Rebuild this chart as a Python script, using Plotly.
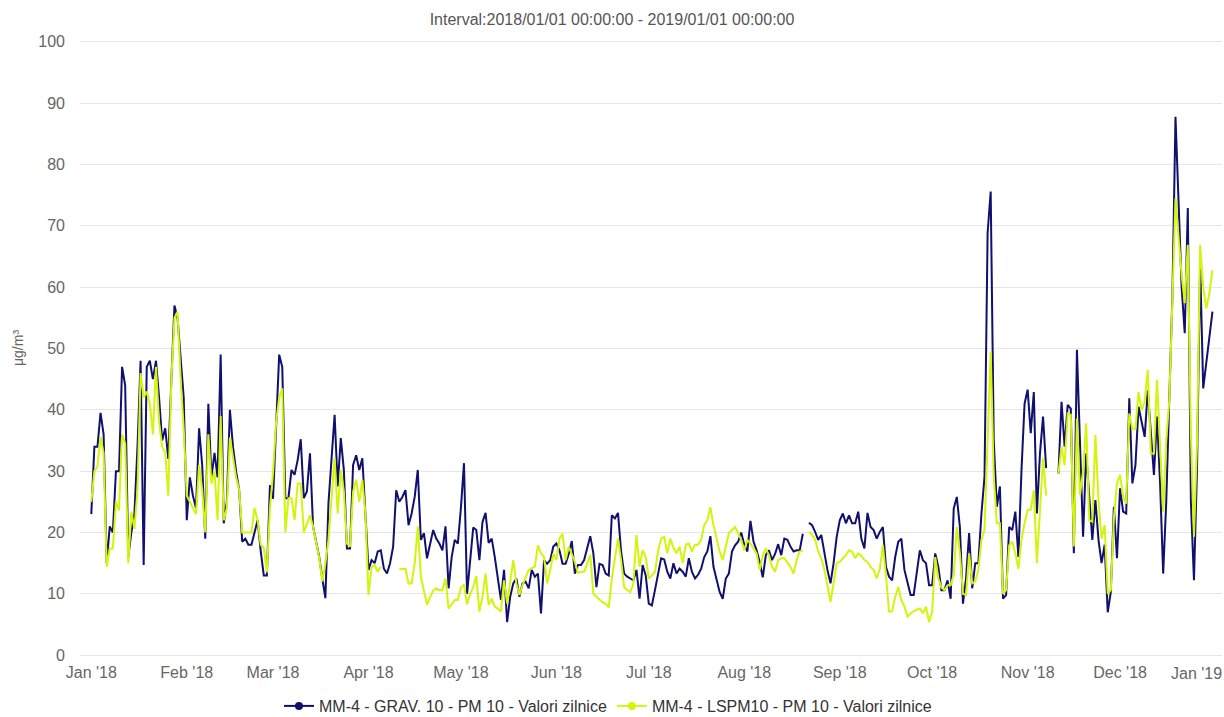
import pandas as pd
import plotly.graph_objects as go

# ---------------- data (daily values, 2018-01-01 .. 2018-12-31) ----------------
start_date = "2018-01-01"
n_days = 365

grav_pm10 = [
    # Jan 1 - Mar 4
    23, 34, 34, 39.5, 36, 15, 21, 20, 30, 30, 47, 44, 16, 20, 23, 34, 48, 14.7, 47, 48,
    45, 48, 42, 35, 37, 32, 45, 57, 55, 48, 42, 22, 29, 26, 24, 37, 31, 19, 41, 29,
    33, 29, 49, 21.5, 25, 40, 34, 30, 27, 18.5, 19, 18, 18, 20, 22, 17, 13, 13, 27.7, 25.5,
    38, 49, 47,
    # Mar 5 - May 1
    25.6, 25.6, 30.2, 29.4, 31.8, 35.2, 25.6, 26.7, 32.9, 21, 18.2, 16, 12.5, 9.3, 24.8, 32.4,
    39.2, 27.5, 35.4, 30.2, 17.4, 17.4, 31, 32.6, 30.2, 32.1, 23.7, 13.9, 15.5, 15, 16.9, 17.1,
    14.1, 13.3, 15, 17.7, 26.9, 25, 25.8, 26.9, 21.2, 23.1, 25.8, 30.2, 18.8, 19.9, 15.8, 18.2,
    20.4, 19, 18.2, 17.1, 21, 10.9, 16, 18.8, 18.2, 24,
    # May 2 - Jul 6
    31.3, 10, 16, 20.8, 20.4, 15.5, 21.7, 23.2, 18.3, 19, 16, 12.8, 9, 13.9, 5.4, 9.5,
    11.7, 12.5, 9.5, 11.7, 12, 10.9, 13.9, 12.8, 13.3, 6.8, 15.5, 14.9, 15.5, 17.7, 18.2, 17.1,
    14.9, 14.9, 16.5, 18.6, 13.3, 14.7, 14.7, 15.5, 17.7, 19.4, 16.6, 11.1, 14.9, 14.7, 13.3, 13,
    22.8, 22.3, 23.2, 16.9, 13.3, 12.8, 12.5, 12.2, 13.9, 9.2, 14.7, 13, 8.4, 8.1, 10.6, 13.3,
    15.8, 15.6,
    # Jul 7 - Sep 7
    13.6, 12.5, 15, 13.3, 14.1, 13.6, 12.8, 15.8, 13.6, 12.5, 13.1, 14.1, 16, 16.9, 19.4, 14.4,
    12.2, 10.3, 9.2, 12.5, 13.3, 16.9, 17.9, 18.5, 20, 18, 16.9, 21.9, 18.5, 17.1, 15.2, 12.7,
    16.3, 17.1, 15.5, 16.5, 18.1, 16.3, 19, 18.8, 17.7, 16.9, 17.1, 17.1, 19.8, None, 21.6, 21.2,
    20.1, 18.8, 19.6, 16.6, 13.9, 11.7, 15, 19.3, 22, 23.1, 21.5, 22.8, 21.5, 21.5, 23.4,
    # Sep 8 - Nov 7
    19, 17.4, 23.2, 20.9, 20.4, 19, 20.1, 20.9, 14.4, 12.8, 12.2, 16, 18.5, 19, 13.9, 11.7,
    9.8, 9.8, 13.6, 17.1, 15.5, 15, 11.4, 11.4, 16.6, 14.4, 10.6, 10.6, 12.2, 9.2, 23.9, 25.8,
    20.9, 8.4, 12.5, 19.9, 10.9, 15, 15, 23.1, 29.1, 68.8, 75.6, 35, 24.2, 27.5, 9.2, 9.8,
    20.9, 20.4, 23.4, 16, 30.2, 41, 43.3, 36.2, 42.9, 23.1, 32.9, 38.9, 30.5,
    # Nov 8 - Nov 10 (missing)
    None, None, None,
    # Nov 11 - Dec 31
    29.6, 41.3, 34, 40.8, 40.2, 16.6, 49.8, 34, 19.3, 32.9, 25.3, 18.8, 25.3, 18.8, 15, 18,
    7, 10.3, 24.2, 15.8, 27.2, 23.4, 23.1, 41.9, 28, 31, 40.5, 38, 35.6, 43.2, 36.1, 29.4,
    38.9, 28, 13.3, 25, 42, 58.5, 87.8, 72.6, 60, 52.5, 72.9, 25, 12.2, 30.7, 63.9, 43.5,
    48, 52, 56,
]

lspm10_pm10 = [
    # Jan 1 - Mar 4
    25, 30, 30.7, 35.6, 33, 14.4, 17.4, 17.4, 25, 23.6, 36, 34.5, 15, 23.4, 20.6, 27, 46, 42,
    43, 41, 36, 47, 38, 34, 33, 26, 45, 55, 56, 45, 37, 26, 25, 24, 23, 31, 27, 20, 36, 28,
    30, 22, 39, 22, 24, 35.5, 32, 29, 27, 20, 20, 20, 20, 24, 22, 18, 17.5, 13.5, 24, 29.6,
    38, 42, 43.5,
    # Mar 5 - May 3
    20, 25.6, 25.6, 22, 28, 28, 20, 21.5, 22.8, 21, 18.2, 15.8, 12, 15, 18.8, 24.8, 32.1, 23.1,
    30.2, 26.7, 18.2, 17.7, 26.7, 28.6, 25, 28.6, 23.1, 9.8, 14.4, 14.7, 13.6, 14.4,
    None, None, None, None, None,
    14, 14, 14.1, 11.7, 11.7, 15, 21, 12.8, 10.6, 8.2, 9.5, 10.5, 10.9, 10.6, 10.6, 12.5, 7.6,
    8.4, 9, 9, 11, 11.5, 8.3,
    # May 4 - Jul 6
    10, 11.1, 12.9, 7.1, 9.5, 13.3, 8.2, 9.2, 7.9, 7.6, 7.1, 12.2, 8.4, 11.7, 15.5, 11.7,
    9.8, 11.4, 12.8, 13.9, 14.2, 14.4, 17.9, 16.6, 16, 11.7, 13.9, 16.6, 15.5, 19, 19.8, 15.5,
    17.7, 16.5, 15.2, 13.4, 13.6, 13.6, 14.9, 16.3, 10, 9.5, 9, 8.6, 8.4, 7.8, 12.5, 15.5,
    19, 15.5, 11.1, 10.6, 10.3, 11.7, 19.6, 14.4, 17.1, 16, 12.5, 13, 13.6, 16.9, 19, 19.3,
    # Jul 7 - Sep 7
    16.6, 19, 17.5, 16.6, 17.7, 15, 18, 18.2, 16.9, 18, 18, 18.8, 21.2, 22, 24.1, 21.2,
    19, 16.9, 15.5, 17.9, 19.9, 20.4, 20.9, 19.9, 18.8, 17.1, 18.8, 18.2, 17.4, 16.6, 13.9, 16.3,
    17.4, 16.3, 14.4, 13.6, 15.5, 15.8, 15.8, 15, 14.4, 13.3, 15.5, 16.9, 17.1, None, 20.1, 19.6,
    18.8, 16.9, 15.8, 13.9, 11.4, 8.7, 11.7, 15, 15.2, 15.8, 16.3, 17.1, 16.9, 15.8, 16.6,
    # Sep 8 - Nov 7
    16.2, 15.5, 15.2, 14.4, 13.9, 12.5, 14.1, 17.9, 13, 7.1, 7.1, 9.5, 11.1, 9, 7.9, 6.3,
    6.8, 7.2, 7.4, 7.6, 6.8, 7.9, 5.4, 7.1, 16, 12.5, 11, 10.6, 11.4, 11.4, 13.1, 20.9,
    16.6, 10, 9.8, 16.6, 11.7, 12, 13.9, 18.8, 20.4, 35, 49.5, 29.1, 21.5, 21.5, 10, 10.6,
    17.9, 18.5, 16.6, 14.1, 18.8, 21.5, 23.7, 23.7, 26.9, 15, 23.1, 32.1, 26,
    # Nov 8 - Nov 10 (missing)
    None, None, None,
    # Nov 11 - Dec 31
    29.6, 34, 31, 39.4, 39.2, 17.7, 38.6, 26.1, 30, 37.8, 22, 21.8, 35.9, 25.3, 19, 21.2,
    10, 10.6, 22.3, 28, 29.4, 25.8, 24.7, 39.4, 36.9, 36.9, 42.9, 40, 41.3, 46.5, 32.9, 32.9,
    44.9, 34.5, 23.4, 35, 41.6, 57.9, 74.5, 68.2, 62, 57.4, 66.9, 36, 19.3, 34.8, 66.9, 60,
    56.5, 59, 62.8,
]

series_names = [
    "MM-4 - GRAV. 10 - PM 10 - Valori zilnice",
    "MM-4 - LSPM10 - PM 10 - Valori zilnice",
]
series_colors = ["#10106e", "#d2f50a"]

month_ticks = pd.date_range("2018-01-01", periods=13, freq="MS")
month_labels = ["Jan '18", "Feb '18", "Mar '18", "Apr '18", "May '18", "Jun '18",
                "Jul '18", "Aug '18", "Sep '18", "Oct '18", "Nov '18", "Dec '18", "Jan '19"]
y_ticks = list(range(0, 101, 10))

title_text = "Interval:2018/01/01 00:00:00 - 2019/01/01 00:00:00"
y_title = "μg/m³"

# ---------------- figure ----------------
dates = pd.date_range(start_date, periods=n_days, freq="D")
FONT = "Liberation Sans, Arial, sans-serif"

fig = go.Figure()
for vals, name, col in zip([grav_pm10, lspm10_pm10], series_names, series_colors):
    fig.add_trace(go.Scatter(
        x=dates, y=vals, mode="lines", name=name,
        line=dict(color=col, width=2), showlegend=False, connectgaps=False,
    ))
# legend entries (line + circle symbol)
for name, col in zip(series_names, series_colors):
    fig.add_trace(go.Scatter(
        x=[None], y=[None], mode="lines+markers", name=name,
        line=dict(color=col, width=2), marker=dict(color=col, size=8, symbol="circle"),
    ))

W, H = 1224, 717
L, R, T, B = 80, 2, 40, 60
plot_w = W - L - R
plot_h = H - T - B

x_start = pd.Timestamp("2017-12-28 08:00")
x_end = pd.Timestamp("2019-01-03 02:24")

fig.update_layout(
    width=W, height=H, autosize=False,
    margin=dict(l=L, r=R, t=T, b=B, autoexpand=False),
    paper_bgcolor="white", plot_bgcolor="white",
    font=dict(family=FONT, size=16, color="#666666"),
    title=dict(text=title_text, x=0.5, xref="container", xanchor="center",
               y=1 - 19 / H, yref="container", yanchor="middle",
               font=dict(family=FONT, size=16, color="#555555")),
    showlegend=True,
    legend=dict(orientation="h", x=(608 - L) / plot_w, xanchor="center",
                y=-(706 - (H - B)) / plot_h, yanchor="middle",
                font=dict(family=FONT, size=16, color="#333333"),
                bgcolor="rgba(0,0,0,0)", itemwidth=30, tracegroupgap=0),
    xaxis=dict(
        range=[x_start, x_end], showgrid=False, zeroline=False, showline=False,
        tickvals=list(month_ticks[:-1]), ticktext=month_labels[:-1], ticks="",
        tickfont=dict(family=FONT, size=16, color="#666666"),
        ticklabelstandoff=4,
    ),
    yaxis=dict(
        range=[-0.3, 100.3], tickvals=y_ticks, showgrid=True, gridcolor="#e6e6e6",
        gridwidth=1, zeroline=False, showline=False, ticks="",
        tickfont=dict(family=FONT, size=16, color="#666666"),
        ticklabelstandoff=14,
    ),
    annotations=[
        dict(text=y_title, xref="paper", yref="paper",
             x=(18 - L) / plot_w, y=((H - B) - 348) / plot_h,
             xanchor="center", yanchor="middle", textangle=-90, showarrow=False,
             font=dict(family=FONT, size=14, color="#666666")),
        dict(text=month_labels[-1], xref="paper", yref="paper",
             x=(1196 - L) / plot_w, y=((H - B) - 673) / plot_h,
             xanchor="center", yanchor="middle", showarrow=False,
             font=dict(family=FONT, size=16, color="#666666")),
    ],
)

fig.write_html("out.html", config={"displayModeBar": False},
               post_script="document.body.style.margin='0px';")
